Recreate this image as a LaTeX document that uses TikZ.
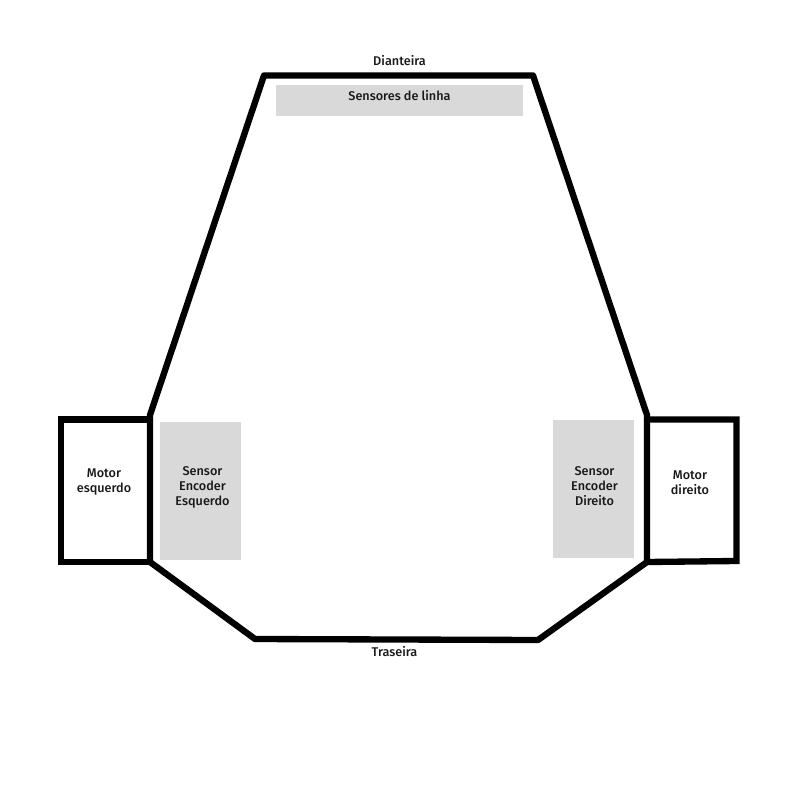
\documentclass[tikz,border=0pt]{standalone}
\usepackage{fontspec}
\setmainfont{Fira Sans Medium}
\tikzset{
	wall/.style={line width=4.5pt,line join=round,line cap=round},
	sensorbox/.style={fill=black!15,draw=none},
	label/.style={font=\fontsize{9}{10.7}\selectfont,align=center,text=black!90,inner sep=0pt},
}
\begin{document}
\begin{tikzpicture}[x=0.025cm,y=-0.025cm]
	\useasboundingbox (0,0) rectangle (800,800);

	\fill[sensorbox] (276,85) rectangle (523,116);
	\fill[sensorbox] (160,422) rectangle (241,560);
	\fill[sensorbox] (553,420) rectangle (634,558);

	\draw[wall] (264,75.5) -- (533,75.5) -- (647,415) -- (647,562) -- (538,640) -- (255,639) -- (150,562) -- (150,415) -- cycle;
	\draw[wall,line join=miter] (150,419.5) -- (61,419.5) -- (61,562) -- (150,562);
	\draw[wall,line join=miter] (647,419.5) -- (736.5,419.5) -- (736.5,561) -- (647,562);

	\node[label] (front) at (399.5,61) {Dianteira};
	\node[label] (back) at (394.5,652) {Traseira};
	\node[label] (linesensor) at (399.5,96) {Sensores de linha};
	\node[label] (motorleft) at (104,481.7) {Motor\\esquerdo};
	\node[label] (motorright) at (690,482.5) {Motor\\direito};
	\node[label] (encoderleft) at (202.5,487.7) {Sensor\\Encoder\\Esquerdo};
	\node[label] (encoderright) at (594.5,485.7) {Sensor\\Encoder\\Direito};
\end{tikzpicture}
\end{document}
